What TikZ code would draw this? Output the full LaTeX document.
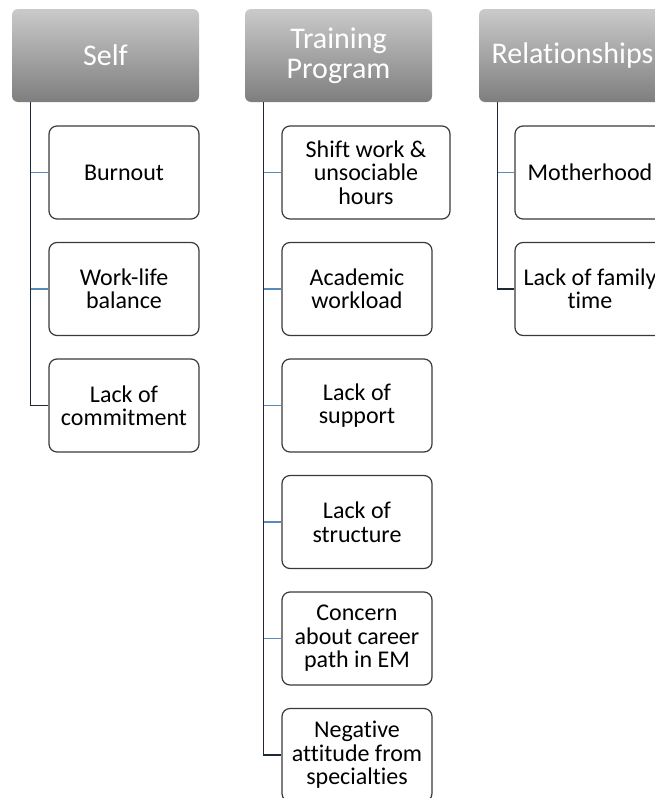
\documentclass[tikz,border=0pt]{standalone}
\usepackage{fontspec}
\setmainfont{Carlito}[Ligatures=NoCommon]
\usetikzlibrary{positioning}
\definecolor{headtop}{HTML}{CACACA}
\definecolor{headmid}{HTML}{B2B2B2}
\definecolor{headbot}{HTML}{7E7E7E}
\definecolor{itemline}{HTML}{3A3A3A}
\definecolor{trunkline}{HTML}{1E2836}
\definecolor{stubline}{HTML}{5A8AB8}
\tikzset{
  head/.style={rectangle, rounded corners=6pt, minimum width=187pt, minimum height=93pt,
    top color=headtop, middle color=headmid, bottom color=headbot, text=white,
    font=\fontsize{30}{30}\selectfont, align=center, inner sep=0pt},
  item/.style={rectangle, draw=itemline, line width=1.2pt, rounded corners=8pt, fill=white,
    minimum width=150pt, minimum height=93pt, font=\fontsize{24}{23.5}\selectfont,
    align=center, inner sep=0pt},
  trunk/.style={draw=trunkline, line width=1.3pt},
  stub/.style={draw=stubline, line width=1.3pt}
}
\begin{document}
\begin{tikzpicture}[x=1pt,y=-1pt]
\useasboundingbox (0,0) rectangle (655,798);
\clip (0,0) rectangle (655,798);
\node[head] (self) at (105.5,55.5) {Self};
\node[head] (train) at (338.5,55.5) {Training\\Program};
\node[head] (rel) at (572.5,55.5) {Relationships};
\coordinate (selfroot) at ([xshift=19pt]self.south west);
\coordinate (trainroot) at ([xshift=19pt]train.south west);
\coordinate (relroot) at ([xshift=19pt]rel.south west);
\node[item] (s1) at (124,172.5) {Burnout};
\node[item] (s2) at (124,289) {Work-life\\balance};
\node[item] (s3) at (124,405.5) {Lack of\\commitment};
\node[item, minimum width=168pt] (t1) at (366,172.5) {Shift work \&\\unsociable\\hours};
\node[item] (t2) at (357,289) {Academic\\workload};
\node[item] (t3) at (357,405.5) {Lack of\\support};
\node[item] (t4) at (357,522) {Lack of\\structure};
\node[item] (t5) at (357,638.5) {Concern\\about career\\path in EM};
\node[item] (t6) at (357,755) {Negative\\attitude from\\specialties};
\node[item] (r1) at (590,172.5) {Motherhood};
\node[item] (r2) at (590,289) {Lack of family\\time};
\draw[stub] (s1.west) -- (s1.west -| selfroot);
\draw[stub] (s2.west) -- (s2.west -| selfroot);
\draw[stub] (t1.west) -- (t1.west -| trainroot);
\draw[stub] (t2.west) -- (t2.west -| trainroot);
\draw[stub] (t3.west) -- (t3.west -| trainroot);
\draw[stub] (t4.west) -- (t4.west -| trainroot);
\draw[stub] (t5.west) -- (t5.west -| trainroot);
\draw[stub] (r1.west) -- (r1.west -| relroot);
\draw[trunk] (selfroot) |- (s3.west);
\draw[trunk] (trainroot) |- (t6.west);
\draw[trunk] (relroot) |- (r2.west);
\end{tikzpicture}
\end{document}
